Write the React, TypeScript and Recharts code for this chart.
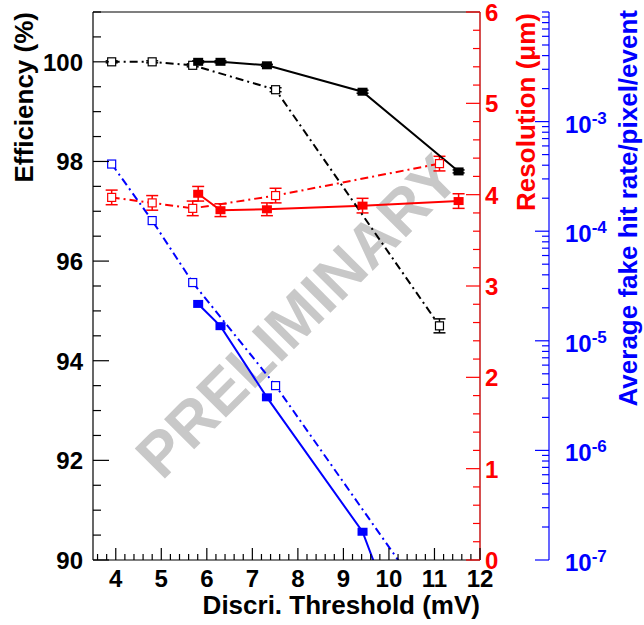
import { LineChart, Line, XAxis, YAxis, ErrorBar, ReferenceLine, Label } from "recharts";

const FONT = "'Liberation Sans', Arial, Helvetica, sans-serif";

// open markers, dash-dot lines
const openThreshold = [3.91, 4.8, 5.69, 7.51, 11.11];
const openEfficiency = [100.0, 100.0, 99.93, 99.44, 94.7];
const openEfficiencyErr = [0.02, 0.02, 0.03, 0.04, 0.14];
const openResolution = [3.97, 3.91, 3.85, 3.99, 4.34];
const openResolutionErr = [0.08, 0.08, 0.08, 0.08, 0.08];
const openFakeRate = [4.1e-4, 1.25e-4, 3.4e-5, 3.9e-6, 2.9e-8];

// filled markers, solid lines
const filledThreshold = [5.81, 6.3, 7.32, 9.42, 11.53];
const filledEfficiency = [100.0, 100.0, 99.93, 99.4, 97.8];
const filledEfficiencyErr = [0.02, 0.02, 0.02, 0.03, 0.03];
const filledResolution = [4.01, 3.83, 3.84, 3.88, 3.93];
const filledResolutionErr = [0.08, 0.07, 0.07, 0.08, 0.08];
const filledFakeRate = [2.17e-5, 1.36e-5, 3.05e-6, 1.81e-7, 8.5e-10];

// axis labels
const xMajor = [4, 5, 6, 7, 8, 9, 10, 11, 12];
const effMajor = [90, 92, 94, 96, 98, 100];
const resMajor = [0, 1, 2, 3, 4, 5, 6];
const fakeMajor = [1e-7, 1e-6, 1e-5, 1e-4, 1e-3];

const steps = (from: number, to: number, step: number) => {
  const out: number[] = [];
  for (let v = from; v <= to + 1e-9; v += step) out.push(Math.round(v * 100) / 100);
  return out;
};
const xTicks = steps(3.6, 12, 0.2);
const effTicks = steps(90, 101, 0.5);
const resTicks = steps(0, 6, 0.2);
const fakeTicks: number[] = [];
for (let d = -7; d <= -3; d++) for (let m = 1; m <= 9; m++) fakeTicks.push(m * Math.pow(10, d));
fakeTicks.push(1e-2);

const isIn = (list: number[], v: number) => list.some((m) => Math.abs(m - v) < 1e-6);
const isInLog = (list: number[], v: number) =>
  list.some((m) => Math.abs(Math.log10(m) - Math.log10(v)) < 1e-6);

const openRows = openThreshold.map((x, i) => ({
  x,
  eff: openEfficiency[i],
  effErr: openEfficiencyErr[i],
  res: openResolution[i],
  resErr: openResolutionErr[i],
  fake: openFakeRate[i],
}));
const filledRows = filledThreshold.map((x, i) => ({
  x,
  eff: filledEfficiency[i],
  effErr: filledEfficiencyErr[i],
  res: filledResolution[i],
  resErr: filledResolutionErr[i],
  fake: filledFakeRate[i],
}));

const filledDot = (color: string) => (p: any) => (
  <rect key={`f-${p.index}`} x={p.cx - 5} y={p.cy - 4} width={10} height={8} fill={color} />
);
const openDot = (color: string) => (p: any) => (
  <rect key={`o-${p.index}`} x={p.cx - 4} y={p.cy - 4} width={8} height={8} fill="#fff" stroke={color} strokeWidth={1.2} />
);

const XTick = (p: any) => {
  const major = isIn(xMajor, p.payload.value);
  return (
    <g>
      <line x1={p.x} x2={p.x} y1={p.y} y2={p.y - (major ? 12 : 6)} stroke="#000" strokeWidth={1.2} />
      {major && (
        <text x={p.x} y={p.y + 27} textAnchor="middle" fontSize={24} fontWeight="bold" fontFamily={FONT} fill="#000">
          {p.payload.value}
        </text>
      )}
    </g>
  );
};

const EffTick = (p: any) => {
  const major = isIn(effMajor, p.payload.value);
  return (
    <g>
      <line x1={p.x} x2={p.x + (major ? 16 : 8)} y1={p.y} y2={p.y} stroke="#000" strokeWidth={1.2} />
      {major && (
        <text x={p.x - 10} y={p.y + 9} textAnchor="end" fontSize={24} fontWeight="bold" fontFamily={FONT} fill="#000">
          {p.payload.value}
        </text>
      )}
    </g>
  );
};

const ResTick = (p: any) => {
  const major = isIn(resMajor, p.payload.value);
  return (
    <g>
      <line x1={p.x} x2={p.x - (major ? 14 : 7)} y1={p.y} y2={p.y} stroke="#ff0000" strokeWidth={1.2} />
      {major && (
        <text x={p.x + 5} y={p.y + 9} textAnchor="start" fontSize={24} fontWeight="bold" fontFamily={FONT} fill="#ff0000">
          {p.payload.value}
        </text>
      )}
    </g>
  );
};

const FakeTick = (p: any) => {
  const v = p.payload.value;
  const major = isInLog(fakeMajor, v);
  return (
    <g>
      <line x1={p.x} x2={p.x - (major ? 14 : 7)} y1={p.y} y2={p.y} stroke="#0000ff" strokeWidth={1.2} />
      {major && (
        <text x={p.x + 16} y={p.y + 11} textAnchor="start" fontSize={24} fontWeight="bold" fontFamily={FONT} fill="#0000ff">
          10
          <tspan dy={-9} fontSize={17}>
            {Math.round(Math.log10(v))}
          </tspan>
        </text>
      )}
    </g>
  );
};

const title = (text: string, color: string, dx: number, dy: number, rotate: boolean) => (p: any) => {
  const vb = p.viewBox;
  if (rotate) {
    const x = vb.x + dx;
    const y = vb.y + dy;
    return (
      <text x={x} y={y} transform={`rotate(-90 ${x} ${y})`} textAnchor="end" fontSize={26} fontWeight="bold" fontFamily={FONT} fill={color}>
        {text}
      </text>
    );
  }
  return (
    <text x={vb.x + vb.width + dx} y={vb.y + dy} textAnchor="end" fontSize={26} fontWeight="bold" fontFamily={FONT} fill={color}>
      {text}
    </text>
  );
};

export default function App() {
  return (
    <div style={{ position: "relative", width: 644, height: 625, background: "#fff" }}>
      <style>{"body{margin:0}"}</style>
      <svg width={644} height={625} style={{ position: "absolute", left: 0, top: 0 }}>
        <text
          x={297}
          y={316}
          transform="rotate(-45 297 316)"
          textAnchor="middle"
          dominantBaseline="central"
          fontSize={62}
          fontWeight="bold"
          fontFamily={FONT}
          fill="#c8c8c8"
        >
          PRELIMINARY
        </text>
      </svg>
      <div style={{ position: "absolute", left: 0, top: 0 }}>
        <LineChart width={644} height={625} margin={{ top: 12, right: 0, bottom: 0, left: 0 }}>
          <XAxis
            type="number"
            dataKey="x"
            domain={[3.5, 12]}
            allowDataOverflow
            ticks={xTicks}
            interval={0}
            height={65}
            tickSize={0}
            tickMargin={0}
            tickLine={false}
            tick={<XTick />}
            axisLine={{ stroke: "#000", strokeWidth: 1.2 }}
          >
            <Label content={title("Discri. Threshold (mV)", "#000", 0, 54, false)} />
          </XAxis>
          <YAxis
            yAxisId="eff"
            orientation="left"
            domain={[90, 101]}
            allowDataOverflow
            ticks={effTicks}
            interval={0}
            width={93}
            tickSize={0}
            tickMargin={0}
            tickLine={false}
            tick={<EffTick />}
            axisLine={{ stroke: "#000", strokeWidth: 1.2 }}
          >
            <Label content={title("Efficiency (%)", "#000", 33, 0, true)} />
          </YAxis>
          <YAxis
            yAxisId="b_fake"
            orientation="right"
            scale="log"
            domain={[1e-7, 1e-2]}
            allowDataOverflow
            ticks={fakeTicks}
            interval={0}
            width={95}
            tickSize={0}
            tickMargin={0}
            tickLine={false}
            tick={<FakeTick />}
            axisLine={{ stroke: "#0000ff", strokeWidth: 1.2 }}
          >
            <Label content={title("Average fake hit rate/pixel/event", "#0000ff", 88, -2, true)} />
          </YAxis>
          <YAxis
            yAxisId="a_res"
            orientation="right"
            domain={[0, 6]}
            allowDataOverflow
            ticks={resTicks}
            interval={0}
            width={69}
            tickSize={0}
            tickMargin={0}
            tickLine={false}
            tick={<ResTick />}
            axisLine={{ stroke: "#c81414", strokeWidth: 1.5 }}
          >
            <Label content={title("Resolution (\u03bcm)", "#ff0000", 55, 1, true)} />
          </YAxis>
          <ReferenceLine yAxisId="eff" y={101} stroke="#000" strokeWidth={1.2} />

          <Line yAxisId="b_fake" data={openRows} dataKey="fake" stroke="#0000ff" strokeWidth={2} strokeDasharray="8 4 2 4" dot={openDot("#0000ff")} isAnimationActive={false} />
          <Line yAxisId="b_fake" data={filledRows} dataKey="fake" stroke="#0000ff" strokeWidth={2} dot={filledDot("#0000ff")} isAnimationActive={false} />

          <Line yAxisId="a_res" data={openRows} dataKey="res" stroke="#ff0000" strokeWidth={2} strokeDasharray="8 4 2 4" dot={openDot("#ff0000")} isAnimationActive={false}>
            <ErrorBar dataKey="resErr" direction="y" width={6} stroke="#ff0000" strokeWidth={1.5} />
          </Line>
          <Line yAxisId="a_res" data={filledRows} dataKey="res" stroke="#ff0000" strokeWidth={2} dot={filledDot("#ff0000")} isAnimationActive={false}>
            <ErrorBar dataKey="resErr" direction="y" width={6} stroke="#ff0000" strokeWidth={1.5} />
          </Line>

          <Line yAxisId="eff" data={openRows} dataKey="eff" stroke="#000" strokeWidth={2} strokeDasharray="8 4 2 4" dot={openDot("#000")} isAnimationActive={false}>
            <ErrorBar dataKey="effErr" direction="y" width={6} stroke="#000" strokeWidth={1.5} />
          </Line>
          <Line yAxisId="eff" data={filledRows} dataKey="eff" stroke="#000" strokeWidth={2} dot={filledDot("#000")} isAnimationActive={false}>
            <ErrorBar dataKey="effErr" direction="y" width={6} stroke="#000" strokeWidth={1.5} />
          </Line>
        </LineChart>
      </div>
    </div>
  );
}
